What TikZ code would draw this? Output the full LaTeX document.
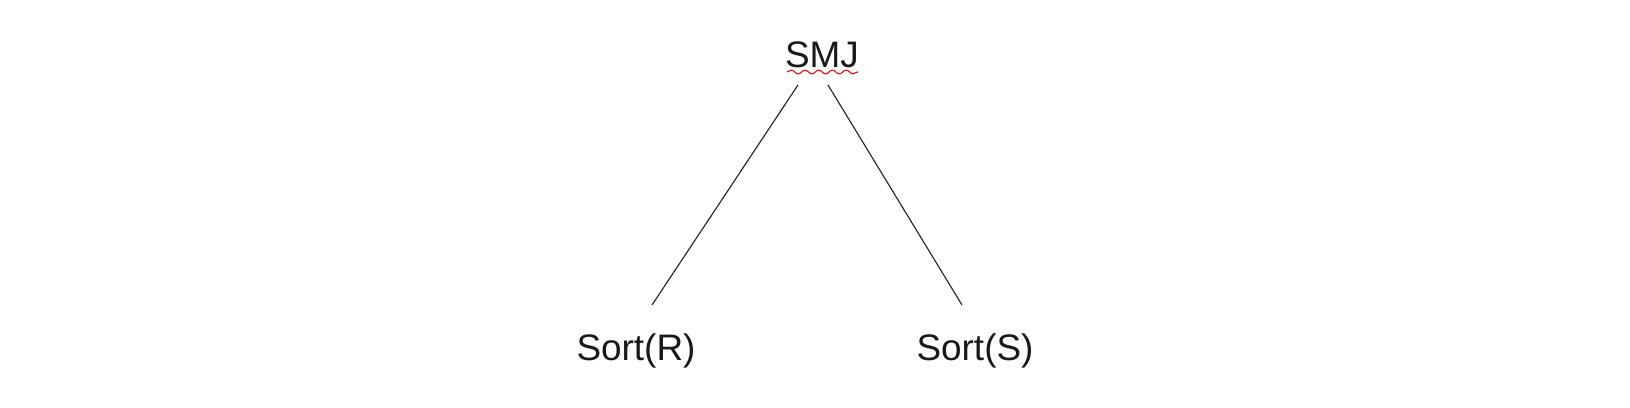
\documentclass[tikz,border=0pt]{standalone}
\usepackage{fontspec}
\setmainfont{Liberation Sans}
\usetikzlibrary{calc,decorations.pathmorphing}
\begin{document}
\begin{tikzpicture}[x=0.02cm,y=-0.02cm,
    opnode/.style={inner sep=0pt,font=\fontsize{21}{25}\selectfont,text=black!90}]
        \useasboundingbox (0,0) rectangle (1630,408);
        \node[opnode] (smj) at (822,55) {SMJ};
        \node[opnode] (sortr) at (636,351) {Sort(R)};
        \node[opnode] (sorts) at (975,351) {Sort(S)};
        \draw[red,line width=0.6pt,decorate,decoration={snake,amplitude=1.1pt,segment length=7.8pt}]
            ($(smj.center)+(-35,17)$) -- ($(smj.center)+(36,17)$);
        \draw[line width=0.65pt,black!85] ($(smj.center)+(-24,30)$) -- ($(sortr.center)+(16,-46)$);
        \draw[line width=0.65pt,black!85] ($(smj.center)+(6,30)$) -- ($(sorts.center)+(-13,-46)$);
      \end{tikzpicture}
\end{document}
